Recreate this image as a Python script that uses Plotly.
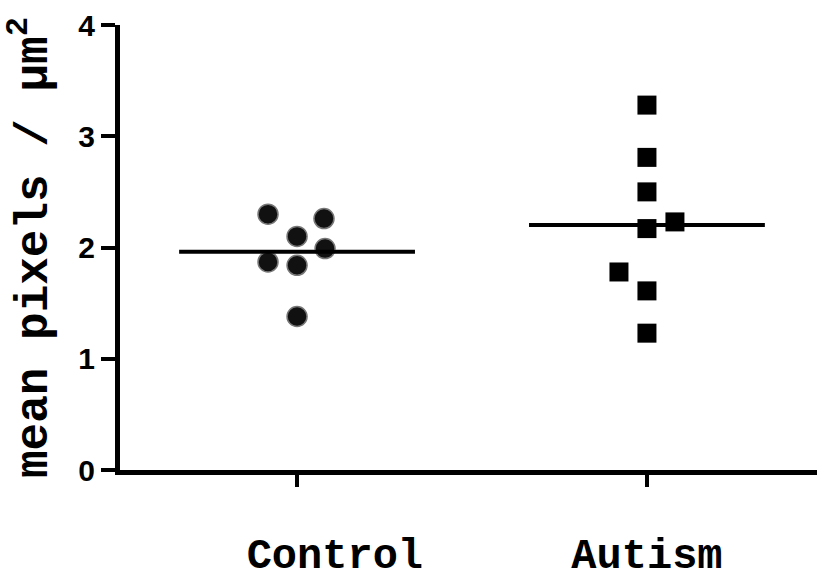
import plotly.graph_objects as go

groups = ["\u00a0\u00a0\u00a0Control", "Autism"]
group_pos = [1, 2]

control_values = [2.30, 2.26, 2.10, 1.99, 1.87, 1.84, 1.38]
control_jitter = [-0.083, 0.077, 0.0, 0.08, -0.083, 0.0, 0.0]

autism_values = [3.28, 2.81, 2.50, 2.17, 2.23, 1.78, 1.61, 1.23]
autism_jitter = [0.0, 0.0, 0.0, 0.0, 0.08, -0.08, 0.0, 0.0]

y_ticks = [0, 1, 2, 3, 4]
mean_halfwidth = 0.337

fig = go.Figure()

fig.add_trace(go.Scatter(
    x=[group_pos[0] + j for j in control_jitter], y=control_values,
    mode="markers",
    marker=dict(symbol="circle", size=20, color="#111111",
                line=dict(color="#777777", width=1.5)),
    showlegend=False, cliponaxis=False))

fig.add_trace(go.Scatter(
    x=[group_pos[1] + j for j in autism_jitter], y=autism_values,
    mode="markers",
    marker=dict(symbol="square", size=19, color="#000000"),
    showlegend=False, cliponaxis=False))

for pos, vals in zip(group_pos, [control_values, autism_values]):
    m = sum(vals) / len(vals)
    fig.add_trace(go.Scatter(
        x=[pos - mean_halfwidth, pos + mean_halfwidth], y=[m, m],
        mode="lines", line=dict(color="#000000", width=4),
        showlegend=False, hoverinfo="skip"))

fig.update_layout(
    width=818, height=587,
    margin=dict(l=120, r=1, t=25, b=117),
    paper_bgcolor="white", plot_bgcolor="white",
    font=dict(family="Liberation Mono", color="#000000"),
)

fig.update_xaxes(
    range=[0.494, 2.486],
    tickvals=group_pos, ticktext=groups,
    showgrid=False, zeroline=False,
    showline=True, linecolor="#000000", linewidth=5,
    ticks="outside", ticklen=12, tickwidth=4, tickcolor="#000000",
    tickfont=dict(family="Liberation Mono", size=42, color="#000000", weight="bold"),
    ticklabelstandoff=31,
    automargin=False,
)

fig.update_yaxes(
    range=[0, 4],
    tickvals=y_ticks, ticktext=[str(t) for t in y_ticks],
    showgrid=False, zeroline=False,
    showline=True, linecolor="#000000", linewidth=5,
    ticks="outside", ticklen=14, tickwidth=4, tickcolor="#000000",
    tickfont=dict(family="Liberation Sans", size=30, color="#000000", weight="bold"),
    title=dict(text="mean pixels / μm<sup>2</sup>",
               font=dict(family="Liberation Mono", size=46, color="#000000", weight="bold"),
               standoff=18),
    automargin=False,
)

fig.write_html("out.html")
